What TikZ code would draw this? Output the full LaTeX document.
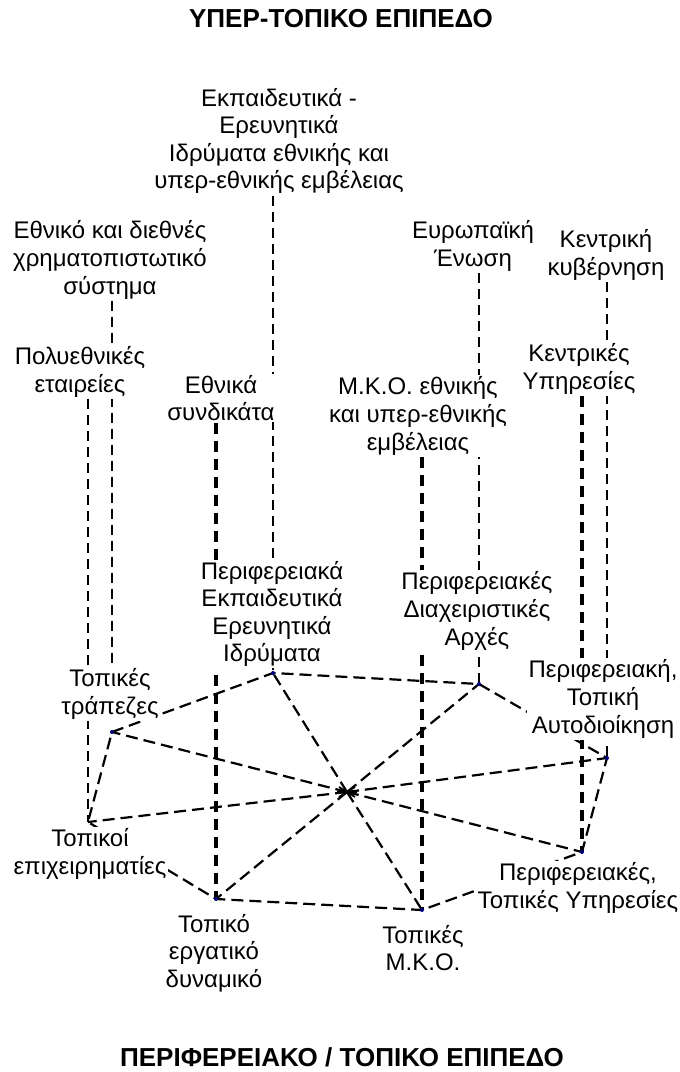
\documentclass[tikz,border=0pt]{standalone}
\usepackage{fontspec}
\setmainfont{Liberation Sans}
\usetikzlibrary{calc}
\pgfdeclarelayer{bg}
\pgfsetlayers{bg,main}
\definecolor{navy}{RGB}{0,0,128}
\begin{document}
\begin{tikzpicture}[x=1pt,y=-1pt,
  lbl/.style={fill=white,inner sep=1.5pt,align=center,font=\fontsize{24}{27.6}\selectfont},
  ttl/.style={inner sep=0pt,font=\bfseries\fontsize{26}{30}\selectfont},
  thinv/.style={line width=1.3pt,dash pattern=on 10pt off 6pt},
  thickv/.style={line width=4pt,dash pattern=on 11pt off 7pt},
  edgeln/.style={line width=2.2pt,dash pattern=on 12pt off 6pt},
  vdot/.style={fill=navy}]
\useasboundingbox (0,0) rectangle (680,1072);
% titles
\node[ttl] (top) at (341,19) {ΥΠΕΡ-ΤΟΠΙΚΟ ΕΠΙΠΕΔΟ};
\node[ttl] (bot) at (342,1057) {ΠΕΡΙΦΕΡΕΙΑΚΟ / ΤΟΠΙΚΟ ΕΠΙΠΕΔΟ};
% upper level
\node[lbl] (ekp) at (279,141) {Εκπαιδευτικά -\\Ερευνητικά\\Ιδρύματα εθνικής και\\υπερ-εθνικής εμβέλειας};
\node[lbl] (fin) at (110,260) {Εθνικό και διεθνές\\χρηματοπιστωτικό\\σύστημα};
\node[lbl] (eu) at (473,246) {Ευρωπαϊκή\\Ένωση};
\node[lbl] (kyv) at (606,255) {Κεντρική\\κυβέρνηση};
\node[lbl] (poly) at (80,372) {Πολυεθνικές\\εταιρείες};
\node[lbl] (syn) at (221,398) {Εθνικά\\συνδικάτα};
\node[lbl] (mkon) at (418,416) {Μ.Κ.Ο. εθνικής\\και υπερ-εθνικής\\εμβέλειας};
\node[lbl] (kyp) at (579,369) {Κεντρικές\\Υπηρεσίες};
% local level
\node[lbl] (idr) at (272,614) {Περιφερειακά\\Εκπαιδευτικά\\Ερευνητικά\\Ιδρύματα};
\node[lbl] (arch) at (477,611) {Περιφερειακές\\Διαχειριστικές\\Αρχές};
\node[lbl] (trap) at (110,694) {Τοπικές\\τράπεζες};
\node[lbl] (auto) at (603,699) {Περιφερειακή,\\Τοπική\\Αυτοδιοίκηση};
\node[lbl] (epix) at (90,854) {Τοπικοί\\επιχειρηματίες};
\node[lbl] (yp) at (578,888) {Περιφερειακές,\\Τοπικές Υπηρεσίες};
\node[lbl] (erg) at (214,953) {Τοπικό\\εργατικό\\δυναμικό};
\node[lbl] (mko) at (423,948) {Τοπικές\\Μ.Κ.Ο.};
% vertices
\coordinate (trapv) at (112,732);
\coordinate (idrv) at (273,673);
\coordinate (archv) at (479,684);
\coordinate (autov) at (607,758);
\coordinate (ypv) at (582,852);
\coordinate (mkov) at (422,910);
\coordinate (ergv) at (216,899);
\coordinate (epixv) at (88,822);
\coordinate (ctr) at (347,792);
\begin{pgfonlayer}{bg}
\draw[thinv] (fin.south -| trapv) -- (trap.north -| trapv);
\draw[thinv] (poly.south -| epixv) -- (epixv);
\draw[thickv] (syn.south -| ergv) -- (ergv);
\draw[thinv] (ekp.south -| idrv) -- (idrv);
\draw[thinv] (eu.south -| archv) -- (archv);
\draw[thickv] (mkon.south -| mkov) -- (mkov);
\draw[thinv] (kyv.south -| autov) -- (autov);
\draw[thickv] (kyp.south -| ypv) -- (ypv);
\draw[edgeln] (trapv) -- (idrv) -- (archv) -- (autov) -- (ypv) -- (mkov) -- (ergv) -- (epixv) -- cycle;
\foreach \v in {trapv,idrv,archv,autov,ypv,mkov,ergv,epixv}
  \draw[edgeln] (ctr) -- (\v);
\end{pgfonlayer}
\foreach \v in {trapv,idrv,archv,autov,ypv,mkov,ergv}
  \fill[vdot] (\v) circle (2pt);
\draw[line width=1.8pt] (ctr) +(-10,0) -- +(10,0)
  (ctr) +(-8,-5) -- +(8,5)
  (ctr) +(-8,5) -- +(8,-5);
\end{tikzpicture}
\end{document}
